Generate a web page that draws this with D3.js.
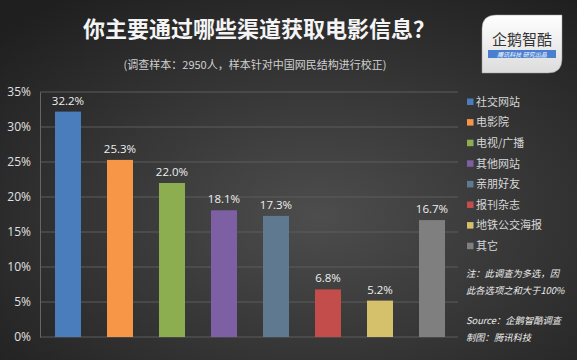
<!DOCTYPE html>
<html>
<head>
<meta charset="utf-8">
<script src="https://cdn.jsdelivr.net/npm/d3@7"></script>
<style>
  html, body { margin: 0; padding: 0; background: #2a2a2a; }
  svg { display: block; font-family: "Noto Sans CJK SC", "Noto Sans", sans-serif; }
</style>
</head>
<body>
<div id="chart"></div>
<script>
const categories = ["社交网站", "电影院", "电视/广播", "其他网站", "亲朋好友", "报刊杂志", "地铁公交海报", "其它"]
const values = [32.2, 25.3, 22.0, 18.1, 17.3, 6.8, 5.2, 16.7]
const colors = ["#4a7dbc", "#f79646", "#8cae50", "#7d5fa3", "#5f7a90", "#c24d4a", "#d5c06c", "#7f7f7f"]
const yTicks = [0, 5, 10, 15, 20, 25, 30, 35]
const noteLines = ["注：此调查为多选，因", "此各选项之和大于100%"]
const sourceLines = ["Source：企鹅智酷调查", "制图：腾讯科技"]

const W = 577, H = 360
const svg = d3.select("#chart").append("svg").attr("width", W).attr("height", H)

// background gradient
const defs = svg.append("defs")
const bg = defs.append("radialGradient").attr("id", "bg")
  .attr("cx", "0.55").attr("cy", "0.6").attr("r", "0.75")
bg.append("stop").attr("offset", "0%").attr("stop-color", "#4d4d4d")
bg.append("stop").attr("offset", "100%").attr("stop-color", "#1f1f1f")
svg.append("rect").attr("width", W).attr("height", H).attr("fill", "url(#bg)")

const logoGrad = defs.append("linearGradient").attr("id", "logo").attr("x1", 0).attr("y1", 0).attr("x2", 0).attr("y2", 1)
logoGrad.append("stop").attr("offset", "0%").attr("stop-color", "#ffffff")
logoGrad.append("stop").attr("offset", "100%").attr("stop-color", "#dcdcdc")

// title
svg.append("text")
  .attr("x", 259).attr("y", 37)
  .attr("text-anchor", "middle")
  .attr("font-size", "22px").attr("font-weight", "bold")
  .attr("fill", "#f4f4f4")
  .text("你主要通过哪些渠道获取电影信息？")
svg.append("text")
  .attr("x", 255).attr("y", 69)
  .attr("text-anchor", "middle")
  .attr("font-size", "11px")
  .attr("fill", "#d0d0d0")
  .text("(调查样本：2950人，样本针对中国网民结构进行校正)")

// logo
const logo = svg.append("g").attr("transform", "translate(482,15)")
logo.append("path")
  .attr("d", "M14,0 H80 V44 Q80,58 66,58 H0 V14 Q0,0 14,0 Z")
  .attr("fill", "url(#logo)").attr("stroke", "#999").attr("stroke-width", 0.5)
logo.append("text").attr("x", 40).attr("y", 30).attr("text-anchor", "middle")
  .attr("font-size", "15px").attr("fill", "#333").text("企鹅智酷")
logo.append("rect").attr("x", 6).attr("y", 35).attr("width", 68).attr("height", 8).attr("fill", "#4a7fd0")
logo.append("text").attr("x", 40).attr("y", 41.5).attr("text-anchor", "middle")
  .attr("font-size", "6px").attr("font-style", "italic").attr("fill", "#fff").text("腾讯科技  研究出品")

// scales
const x = d3.scaleBand().domain(categories).range([42, 458]).paddingInner(0.5).paddingOuter(0.25)
const y = d3.scaleLinear().domain([0, 35]).range([337, 92])

const g = svg.append("g")

// grid
g.append("g")
  .selectAll("line").data(yTicks).join("line")
  .attr("x1", 40).attr("x2", 458)
  .attr("y1", d => y(d)).attr("y2", d => y(d))
  .attr("stroke", "#5c5c5c").attr("stroke-width", 1)

const yAxis = g.append("g").attr("transform", "translate(40,0)")
  .call(d3.axisLeft(y).tickValues(yTicks).tickSize(0).tickPadding(9).tickFormat(d => d + "%"))
yAxis.select(".domain").attr("stroke", "#666")
yAxis.selectAll("text").attr("fill", "#e0e0e0").attr("font-size", "12px")
  .attr("font-family", "'Open Sans', 'Noto Sans', sans-serif")

// bars
g.selectAll("rect.bar").data(values).join("rect")
  .attr("class", "bar")
  .attr("x", (d, i) => x(categories[i]))
  .attr("width", x.bandwidth())
  .attr("y", d => y(d))
  .attr("height", d => y(0) - y(d))
  .attr("fill", (d, i) => colors[i])

g.selectAll("text.val").data(values).join("text")
  .attr("class", "val")
  .attr("x", (d, i) => x(categories[i]) + x.bandwidth() / 2)
  .attr("y", d => y(d) - 7)
  .attr("text-anchor", "middle")
  .attr("font-size", "11.5px")
  .attr("font-family", "'Open Sans', 'Noto Sans', sans-serif")
  .attr("fill", "#eeeeee")
  .text(d => d.toFixed(1) + "%")

// legend
const legend = svg.append("g").attr("transform", "translate(467,102)")
const item = legend.selectAll("g").data(categories).join("g")
  .attr("transform", (d, i) => `translate(0,${i * 20.6})`)
item.append("rect").attr("x", 0).attr("y", -3.5).attr("width", 6.5).attr("height", 6.5)
  .attr("fill", (d, i) => colors[i])
item.append("text").attr("x", 9).attr("y", 0).attr("dy", "0.35em")
  .attr("font-size", "11px").attr("fill", "#d8d8d8").text(d => d)

// notes
svg.append("g").selectAll("text").data(noteLines).join("text")
  .attr("x", 466).attr("y", (d, i) => 277 + i * 17)
  .attr("font-size", "9.3px").attr("font-style", "italic").attr("fill", "#eeeeee")
  .text(d => d)
svg.append("g").selectAll("text").data(sourceLines).join("text")
  .attr("x", 466).attr("y", (d, i) => 324 + i * 17)
  .attr("font-size", "9.3px").attr("font-style", "italic").attr("fill", "#eeeeee")
  .text(d => d)
</script>
</body>
</html>
